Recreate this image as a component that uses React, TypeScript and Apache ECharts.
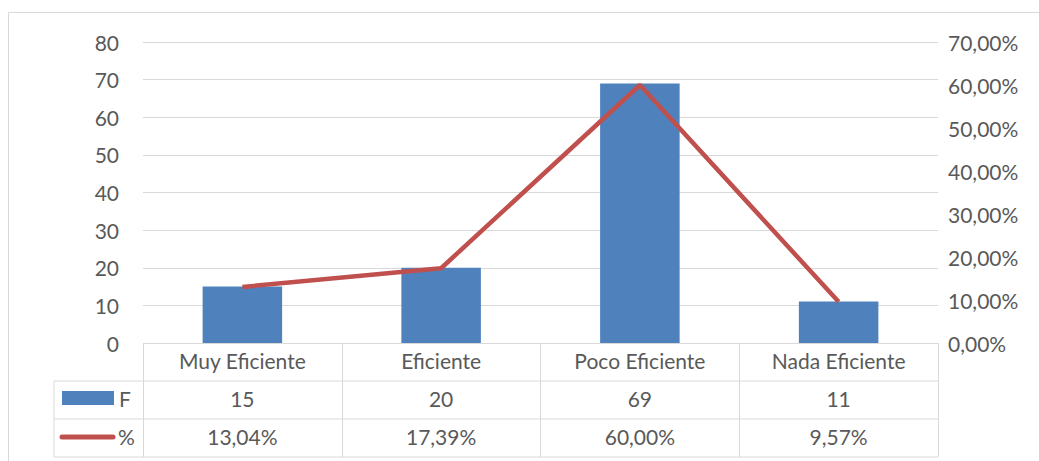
import React, { useEffect, useRef } from "react";
import * as echarts from "echarts";

// Frequency table: count (F) and share (%) per rating
const categories = ["Muy Eficiente", "Eficiente", "Poco Eficiente", "Nada Eficiente"];
const frequency = [15, 20, 69, 11];
const percent = [13.04, 17.39, 60.0, 9.57];

const BLUE = "#4f81bd";
const RED = "#c0504d";
const GRID = "#d9d9d9";
const TEXT = "#595959";
const FONT = "Lato, 'Open Sans', sans-serif";
const FS = 21;

const fmtPct = (v: number) => v.toFixed(2).replace(".", ",") + "%";

// layout of the plot area and the data table below it
const L = 143;
const R = 938;
const TOP = 42;
const BASE = 343;
const ROW = 38;
const TABLE_LEFT = 54;

export default function App() {
  const ref = useRef<HTMLDivElement>(null);

  useEffect(() => {
    if (!ref.current) return;
    const chart = echarts.init(ref.current, null, { renderer: "svg" });

    const rowLine = (y: number) => ({
      type: "line",
      shape: { x1: TABLE_LEFT, y1: y, x2: R, y2: y },
      style: { stroke: GRID, lineWidth: 1 },
      silent: true,
    });

    const labelStyle = { color: TEXT, fontSize: FS, fontFamily: FONT };
    const rowLabel = { ...labelStyle, margin: 7, interval: 0 };

    chart.setOption({
      animation: false,
      grid: { left: L, right: 1039 - R, top: TOP, bottom: 461 - BASE, containLabel: false },
      xAxis: [
        {
          type: "category",
          data: categories,
          position: "bottom",
          axisLine: { show: false },
          axisTick: { show: true, alignWithLabel: false, length: ROW * 3, inside: false, lineStyle: { color: GRID, width: 1 } },
          axisLabel: rowLabel,
        },
        {
          type: "category",
          data: frequency.map((v) => String(v)),
          position: "bottom",
          offset: ROW,
          axisLine: { show: false },
          axisTick: { show: false },
          axisLabel: rowLabel,
        },
        {
          type: "category",
          data: percent.map(fmtPct),
          position: "bottom",
          offset: ROW * 2,
          axisLine: { show: false },
          axisTick: { show: false },
          axisLabel: rowLabel,
        },
      ],
      yAxis: [
        {
          type: "value",
          min: 0,
          max: 80,
          interval: 10,
          axisLine: { show: false },
          axisTick: { show: false },
          splitLine: { lineStyle: { color: GRID, width: 1 } },
          axisLabel: { ...labelStyle, margin: 24 },
        },
        {
          type: "value",
          min: 0,
          max: 70,
          interval: 10,
          position: "right",
          axisLine: { show: false },
          axisTick: { show: false },
          splitLine: { show: false },
          axisLabel: { ...labelStyle, margin: 10, formatter: (v: number) => fmtPct(v) },
        },
      ],
      series: [
        {
          name: "F",
          type: "bar",
          data: frequency,
          barWidth: "40%",
          itemStyle: { color: BLUE },
          xAxisIndex: 0,
          yAxisIndex: 0,
        },
        {
          name: "%",
          type: "line",
          data: percent,
          xAxisIndex: 0,
          yAxisIndex: 1,
          symbol: "none",
          lineStyle: { color: RED, width: 4.5 },
        },
      ],
      graphic: [
        // chart frame
        {
          type: "rect",
          shape: { x: 8.5, y: 12.5, width: 1100, height: 600 },
          style: { fill: "none", stroke: GRID, lineWidth: 1 },
          silent: true,
        },
        rowLine(BASE + ROW),
        rowLine(BASE + ROW * 2),
        rowLine(BASE + ROW * 3),
        {
          type: "line",
          shape: { x1: TABLE_LEFT, y1: BASE + ROW, x2: TABLE_LEFT, y2: BASE + ROW * 3 },
          style: { stroke: GRID, lineWidth: 1 },
          silent: true,
        },
        // legend keys inside the table
        {
          type: "rect",
          shape: { x: 62, y: BASE + ROW + 10, width: 52, height: 14 },
          style: { fill: BLUE },
          silent: true,
        },
        {
          type: "text",
          style: { x: 119, y: BASE + ROW * 1.5 - 2, text: "F", fill: TEXT, font: `${FS}px ${FONT}`, verticalAlign: "middle" },
          silent: true,
        },
        {
          type: "line",
          shape: { x1: 62, y1: BASE + ROW * 2.5 - 1, x2: 113, y2: BASE + ROW * 2.5 - 1 },
          style: { stroke: RED, lineWidth: 5, lineCap: "round" },
          silent: true,
        },
        {
          type: "text",
          style: { x: 118, y: BASE + ROW * 2.5 - 2, text: "%", fill: TEXT, font: `${FS}px ${FONT}`, verticalAlign: "middle" },
          silent: true,
        },
      ],
    });

    return () => chart.dispose();
  }, []);

  return (
    <div
      ref={ref}
      style={{ position: "absolute", left: 0, top: 0, width: 1039, height: 461, background: "#fff" }}
    />
  );
}
